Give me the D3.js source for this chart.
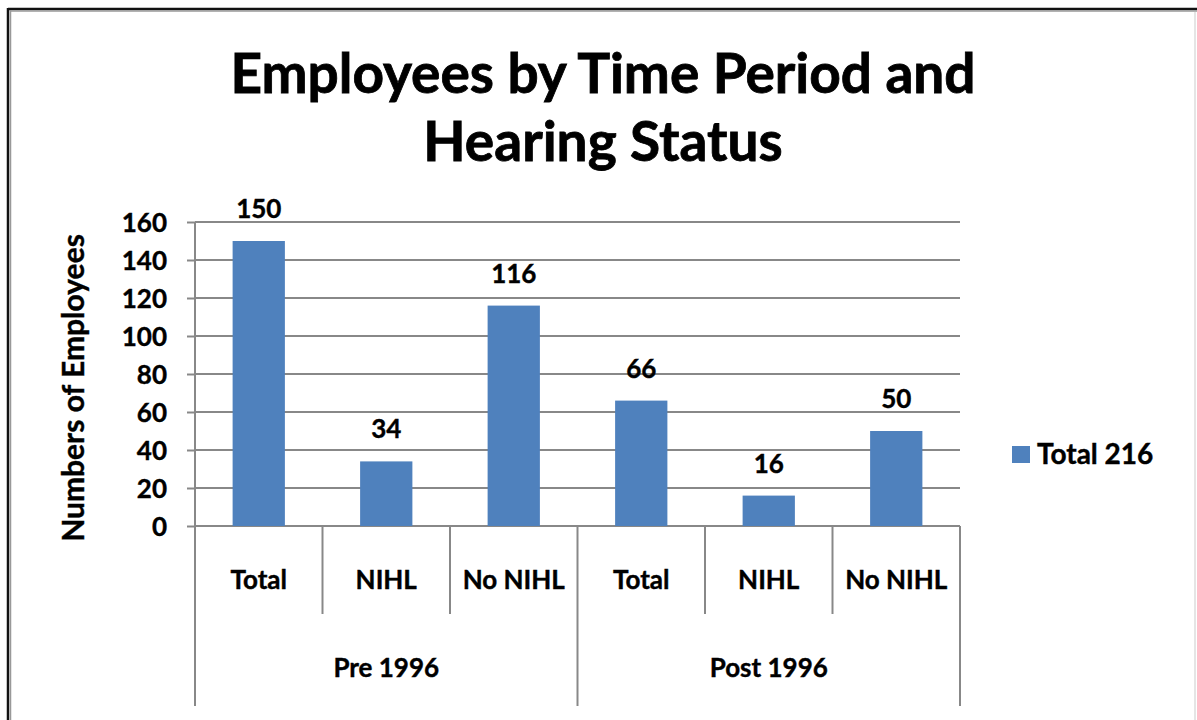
<!DOCTYPE html>
<html>
<head>
<meta charset="utf-8">
<style>
  body { margin: 0; background: #ffffff; }
  #vis-bars { width: 1197px; height: 720px; }
  text { font-family: Lato, "Open Sans", sans-serif; font-weight: bold; fill: #000; stroke: #000; stroke-width: 0.4px; }
</style>
</head>
<body>

<div id="vis-bars"></div>

<script src="https://d3js.org/d3.v7.min.js"></script>

<script>

	// Data //
	// ---- //

	const categories = ["Total", "NIHL", "No NIHL", "Total", "NIHL", "No NIHL"];
	const groups = ["Pre 1996", "Post 1996"];
	const groupOf = [0, 0, 0, 1, 1, 1];
	const values = [150, 34, 116, 66, 16, 50];
	const yTicks = [0, 20, 40, 60, 80, 100, 120, 140, 160];
	const legendLabel = "Total 216";
	const titleLines = ["Employees by Time Period and", "Hearing Status"];

	// Setup //
	// ----- //

	const W = 1197, H = 720;
	const plot = {left: 195, right: 960, top: 222, bottom: 526};

	const svg = d3.select("#vis-bars")
		.append("svg")
			.attr("width", W)
			.attr("height", H);

	// frame
	svg.append("rect")
		.attr("x", 0).attr("y", 0).attr("width", W).attr("height", H)
		.attr("fill", "#fff");
	svg.append("line")
		.attr("x1", 8).attr("x2", W).attr("y1", 9).attr("y2", 9)
		.attr("stroke", "#111").attr("stroke-width", 2.5);
	svg.append("line")
		.attr("x1", 8).attr("x2", 8).attr("y1", 8).attr("y2", H)
		.attr("stroke", "#111").attr("stroke-width", 2.5);
	svg.append("line")
		.attr("x1", 10).attr("x2", W).attr("y1", 11).attr("y2", 11)
		.attr("stroke", "#999").attr("stroke-width", 1.5);
	svg.append("line")
		.attr("x1", 10.5).attr("x2", 10.5).attr("y1", 10).attr("y2", H)
		.attr("stroke", "#999").attr("stroke-width", 1.5);
	svg.append("line")
		.attr("x1", W - 2).attr("x2", W - 2).attr("y1", 12).attr("y2", H)
		.attr("stroke", "#ddd").attr("stroke-width", 1.5);

	// Scales
	const x = d3.scaleBand()
		.domain(d3.range(categories.length))
		.range([plot.left, plot.right])
		.paddingInner(0)
		.paddingOuter(0);
	const y = d3.scaleLinear().domain([0, 160]).range([plot.bottom, plot.top]);
	const barW = x.bandwidth() * 0.41;

	// Title
	svg.append("g").selectAll("text")
		.data(titleLines)
		.enter().append("text")
			.attr("x", 603)
			.attr("y", (d, i) => 93 + i * 68)
			.attr("text-anchor", "middle")
			.style("font-size", "55px")
			.style("stroke-width", "0.8px")
			.text(d => d);

	// Gridlines and y axis
	const yAxis = d3.axisLeft(y)
		.tickValues(yTicks)
		.tickSize(8)
		.tickPadding(20);
	const gy = svg.append("g")
		.attr("transform", "translate(" + plot.left + ",0)")
		.call(yAxis);
	gy.select(".domain").remove();
	gy.selectAll(".tick line").attr("stroke", "#888").attr("stroke-width", 2);
	gy.selectAll(".tick text")
		.style("font-size", "26px")
		.style("font-family", "Lato, sans-serif")
		.style("font-weight", "bold")
		.attr("dy", "0.36em");

	svg.append("g").selectAll("line")
		.data(yTicks)
		.enter().append("line")
			.attr("x1", plot.left).attr("x2", plot.right)
			.attr("y1", d => y(d)).attr("y2", d => y(d))
			.attr("stroke", "#888").attr("stroke-width", 2);

	svg.append("line")
		.attr("x1", plot.left).attr("x2", plot.left)
		.attr("y1", plot.top).attr("y2", plot.bottom)
		.attr("stroke", "#888").attr("stroke-width", 2);

	// y axis label
	svg.append("text")
		.attr("transform", "translate(84,388) rotate(-90)")
		.attr("text-anchor", "middle")
		.style("font-size", "30px")
		.text("Numbers of Employees");

	// Bars
	svg.append("g").selectAll("rect")
		.data(values)
		.enter().append("rect")
			.attr("x", (d, i) => x(i) + x.bandwidth() / 2 - barW / 2)
			.attr("y", d => y(d))
			.attr("width", barW)
			.attr("height", d => y(0) - y(d))
			.attr("fill", "#4f81bd");

	// Value labels
	svg.append("g").selectAll("text")
		.data(values)
		.enter().append("text")
			.attr("x", (d, i) => x(i) + x.bandwidth() / 2)
			.attr("y", d => y(d) - 23)
			.attr("text-anchor", "middle")
			.style("font-size", "26px")
			.text(d => d);

	// Category axis: dividers
	const catBottom = 614, groupBottom = 706;
	const edges = d3.range(categories.length + 1).map(i => i < categories.length ? x(i) : plot.right);
	svg.append("g").selectAll("line")
		.data(edges)
		.enter().append("line")
			.attr("x1", d => d).attr("x2", d => d)
			.attr("y1", plot.bottom)
			.attr("y2", (d, i) => (i % 3 === 0) ? groupBottom : catBottom)
			.attr("stroke", "#888").attr("stroke-width", 2);

	svg.append("g").selectAll("text")
		.data(categories)
		.enter().append("text")
			.attr("x", (d, i) => x(i) + x.bandwidth() / 2)
			.attr("y", 589)
			.attr("text-anchor", "middle")
			.style("font-size", "26px")
			.text(d => d);

	svg.append("g").selectAll("text")
		.data(groups)
		.enter().append("text")
			.attr("x", (d, gi) => {
				const idx = d3.range(categories.length).filter(i => groupOf[i] === gi);
				return (x(idx[0]) + x(idx[idx.length - 1]) + x.bandwidth()) / 2;
			})
			.attr("y", 677)
			.attr("text-anchor", "middle")
			.style("font-size", "26px")
			.text(d => d);

	// Legend
	svg.append("rect")
		.attr("x", 1012).attr("y", 446)
		.attr("width", 18).attr("height", 17)
		.attr("fill", "#4f81bd");
	svg.append("text")
		.attr("x", 1037).attr("y", 464)
		.style("font-size", "28px")
		.text(legendLabel);

</script>
</body>
</html>
